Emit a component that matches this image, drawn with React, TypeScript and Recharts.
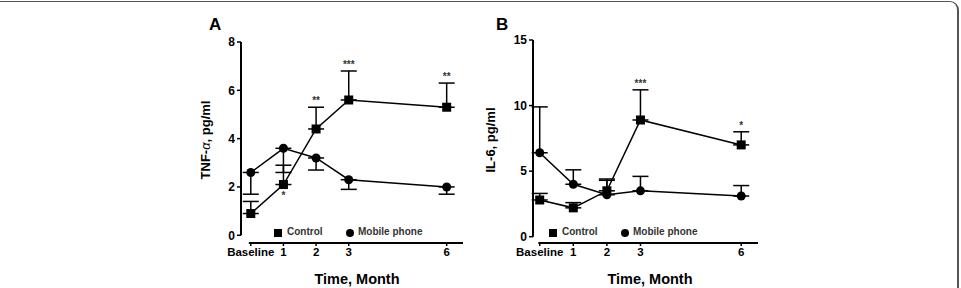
import React from "react";
import {
  LineChart,
  Line,
  XAxis,
  YAxis,
  ErrorBar,
  ReferenceLine,
  LabelList,
  Legend,
} from "recharts";

const FONT = "'Liberation Sans', Arial, sans-serif";

// time points (months) and their axis labels
const months = [0, 1, 2, 3, 6];
const monthLabels = ["Baseline", "1", "2", "3", "6"];

// TNF-alpha, pg/ml
const tnfControl = [0.9, 2.1, 4.4, 5.6, 5.3];
const tnfControlErr = [0.5, 0.8, 0.9, 1.2, 1.0];
const tnfPhone = [2.6, 3.6, 3.2, 2.3, 2.0];
const tnfPhoneErr = [0.9, 1.0, 0.5, 0.4, 0.3];
const tnfSig = ["", "*", "**", "***", "**"];
const tnfSigBelow = [false, true, false, false, false];
const tnfTicks = [0, 2, 4, 6, 8];

// IL-6, pg/ml
const il6Control = [2.8, 2.2, 3.5, 8.9, 7.0];
const il6ControlErr = [0.5, 0.4, 0.9, 2.3, 1.0];
const il6Phone = [6.4, 4.0, 3.2, 3.5, 3.1];
const il6PhoneErr = [3.5, 1.1, 1.1, 1.1, 0.8];
const il6Sig = ["", "", "", "***", "*"];
const il6SigBelow = [false, false, false, false, false];
const il6Ticks = [0, 5, 10, 15];

function buildRows(
  control: number[],
  controlErr: number[],
  phone: number[],
  phoneErr: number[],
  phoneDown: boolean,
  sig: string[],
  sigBelow: boolean[]
) {
  return months.map((m, i) => ({
    month: m,
    control: control[i],
    controlErr: [0, controlErr[i]],
    phone: phone[i],
    phoneErr: phoneDown ? [phoneErr[i], 0] : [0, phoneErr[i]],
    sig: sig[i],
    // stars sit on top of the error bar, or under the point
    sigAt: sig[i] ? (sigBelow[i] ? control[i] : control[i] + controlErr[i]) : null,
    sigBelow: sigBelow[i],
  }));
}

const tnfRows = buildRows(tnfControl, tnfControlErr, tnfPhone, tnfPhoneErr, true, tnfSig, tnfSigBelow);
const il6Rows = buildRows(il6Control, il6ControlErr, il6Phone, il6PhoneErr, false, il6Sig, il6SigBelow);

const SquareDot = (p: any) => (
  <rect key={`sq-${p.index}`} x={p.cx - 4.5} y={p.cy - 4.5} width={9} height={9} fill="#000" />
);

function PanelLegend({ sqX, ciX }: { sqX: number; ciX: number }) {
  const txt: React.CSSProperties = { fontSize: 10, fontWeight: 700, color: "#333", fontFamily: FONT };
  return (
    <div style={{ position: "relative", width: 200, height: 14 }}>
      <span style={{ position: "absolute", left: sqX - 4, top: 3, width: 8, height: 8, background: "#000" }} />
      <span style={{ ...txt, position: "absolute", left: sqX + 9, top: 0 }}>Control</span>
      <span style={{ position: "absolute", left: ciX - 4, top: 3, width: 8, height: 8, background: "#000", borderRadius: 4 }} />
      <span style={{ ...txt, position: "absolute", left: ciX + 8, top: 0 }}>Mobile phone</span>
    </div>
  );
}

function Panel(props: {
  left: number;
  rows: any[];
  letter: string;
  letterX: number;
  yLabel: React.ReactNode;
  yLabelX: number;
  yMin: number;
  yMax: number;
  yTicks: number[];
  xMin: number;
  xLineStart: number;
  margin: any;
  titleX: number;
  legendLeft: number;
}) {
  const { rows } = props;
  return (
    <div style={{ position: "absolute", left: props.left, top: 0 }}>
      <LineChart width={300} height={288} data={rows} margin={props.margin}>
        <XAxis
          dataKey="month"
          type="number"
          domain={[props.xMin, 6.5]}
          allowDataOverflow
          ticks={months}
          tickFormatter={(v: number) => monthLabels[months.indexOf(v)]}
          axisLine={false}
          tickLine={{ stroke: "#000", strokeWidth: 1.5 }}
          tickSize={3}
          tickMargin={2}
          height={20}
          interval={0}
          tick={{ fill: "#000", fontSize: 11.5, fontWeight: 700, fontFamily: FONT }}
        />
        <YAxis
          type="number"
          domain={[props.yMin, props.yMax]}
          allowDataOverflow
          ticks={props.yTicks}
          axisLine={false}
          tickLine={{ stroke: "#000", strokeWidth: 1.5 }}
          tickSize={4}
          tickMargin={2}
          width={40}
          interval={0}
          tick={{ fill: "#000", fontSize: 12, fontWeight: 700, fontFamily: FONT }}
        />
        {/* offset axis lines */}
        <ReferenceLine
          segment={[
            { x: props.xMin, y: 0 },
            { x: props.xMin, y: props.yMax },
          ]}
          stroke="#000"
          strokeWidth={2}
          ifOverflow="visible"
        />
        <ReferenceLine
          segment={[
            { x: props.xLineStart, y: props.yMin },
            { x: 6.5, y: props.yMin },
          ]}
          stroke="#000"
          strokeWidth={2}
          ifOverflow="visible"
        />
        <Line
          dataKey="phone"
          stroke="#000"
          strokeWidth={1.5}
          dot={{ r: 4.5, fill: "#000", stroke: "#000", strokeWidth: 0 }}
          isAnimationActive={false}
        >
          <ErrorBar dataKey="phoneErr" direction="y" width={8} stroke="#000" strokeWidth={1.5} />
        </Line>
        <Line
          dataKey="control"
          stroke="#000"
          strokeWidth={1.5}
          dot={SquareDot}
          isAnimationActive={false}
        >
          <ErrorBar dataKey="controlErr" direction="y" width={8} stroke="#000" strokeWidth={1.5} />
        </Line>
        <Line
          dataKey="sigAt"
          stroke="none"
          dot={false}
          activeDot={false}
          isAnimationActive={false}
          legendType="none"
        >
          <LabelList
            dataKey="sig"
            content={(p: any) => {
              const row = rows[p.index];
              if (!row || !row.sig) return null;
              return (
                <text
                  x={p.x}
                  y={row.sigBelow ? p.y + 14 : p.y - 3}
                  textAnchor="middle"
                  fontSize={10}
                  fontWeight={700}
                  fill="#333"
                  fontFamily={FONT}
                >
                  {row.sig}
                </text>
              );
            }}
          />
        </Line>
        <Legend
          verticalAlign="middle"
          align="center"
          wrapperStyle={{ top: 226, left: props.legendLeft, width: 200 }}
          content={() => <PanelLegend sqX={props.legendLeft > 0 ? 0 : 0} ciX={props.legendLeft > 0 ? 72 : 72} />}
        />
        <text x={props.letterX} y={30} fontSize={17} fontWeight={700} fontFamily={FONT} fill="#000">
          {props.letter}
        </text>
        <text
          x={props.yLabelX}
          y={140}
          transform={`rotate(-90 ${props.yLabelX} 140)`}
          textAnchor="middle"
          dominantBaseline="central"
          fontSize={13}
          fontWeight={700}
          fontFamily={FONT}
          fill="#000"
        >
          {props.yLabel}
        </text>
        <text x={props.titleX} y={284} textAnchor="middle" fontSize={14.5} fontWeight={700} fontFamily={FONT} fill="#000">
          Time, Month
        </text>
      </LineChart>
    </div>
  );
}

export default function App() {
  return (
    <div
      style={{
        position: "absolute",
        left: 0,
        top: 0,
        width: 961,
        height: 288,
        overflow: "hidden",
        background: "#fff",
        fontFamily: FONT,
      }}
    >
      {/* figure frame */}
      <div
        style={{
          position: "absolute",
          left: -10,
          top: 1,
          width: 969,
          height: 320,
          boxSizing: "border-box",
          borderTop: "1.5px solid #555",
          borderRight: "2px solid #555",
          borderTopRightRadius: 9,
        }}
      />
      <Panel
        left={180}
        rows={tnfRows}
        letter="A"
        letterX={29}
        yLabel={
          <>
            TNF-<tspan fontStyle="italic" fontWeight={400}>α</tspan>, pg/ml
          </>
        }
        yLabelX={25}
        yMin={-0.32}
        yMax={8}
        yTicks={tnfTicks}
        xMin={-0.3}
        xLineStart={-0.06}
        margin={{ top: 42, right: 17, bottom: 25, left: 21 }}
        titleX={177}
        legendLeft={98}
      />
      <Panel
        left={480}
        rows={il6Rows}
        letter="B"
        letterX={16}
        yLabel="IL-6, pg/ml"
        yLabelX={10}
        yMin={-0.48}
        yMax={15}
        yTicks={il6Ticks}
        xMin={-0.2}
        xLineStart={-0.04}
        margin={{ top: 40, right: 22, bottom: 25, left: 13 }}
        titleX={170}
        legendLeft={73}
      />
    </div>
  );
}
